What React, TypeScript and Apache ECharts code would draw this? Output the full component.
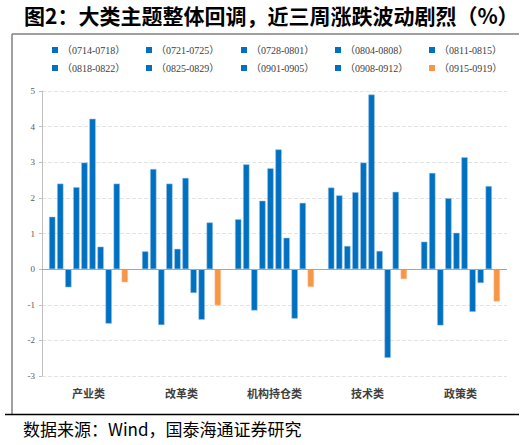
import React, { useEffect, useRef } from 'react';
import * as echarts from 'echarts';

// 分类
const categories = ['产业类', '改革类', '机构持仓类', '技术类', '政策类'];

// 各周涨跌幅（%），顺序对应 categories
const weekNames = [
  '（0714-0718）',
  '（0721-0725）',
  '（0728-0801）',
  '（0804-0808）',
  '（0811-0815）',
  '（0818-0822）',
  '（0825-0829）',
  '（0901-0905）',
  '（0908-0912）',
  '（0915-0919）',
];
const w0714 = [1.47, 0.5, 1.4, 2.29, 0.77];
const w0721 = [2.4, 2.81, 2.94, 2.07, 2.7];
const w0728 = [-0.51, -1.57, -1.16, 0.65, -1.58];
const w0804 = [2.3, 2.4, 1.92, 2.16, 1.99];
const w0811 = [2.99, 0.57, 2.83, 2.99, 1.02];
const w0818 = [4.22, 2.56, 3.36, 4.9, 3.14];
const w0825 = [0.63, -0.67, 0.88, 0.51, -1.2];
const w0901 = [-1.53, -1.42, -1.39, -2.49, -0.39];
const w0908 = [2.4, 1.31, 1.86, 2.17, 2.33];
const w0915 = [-0.37, -1.02, -0.5, -0.28, -0.91];
const weekData = [w0714, w0721, w0728, w0804, w0811, w0818, w0825, w0901, w0908, w0915];

// y轴刻度
const yMin = -3;
const yMax = 5;
const yStep = 1;

const BLUE = '#0070C0';
const ORANGE = '#F79646';
const SERIF = '"Liberation Serif", "Noto Sans CJK SC", serif';
const CJK = '"Noto Sans CJK SC", sans-serif';

// 图例位置：两行五列
const legendCols = [52, 146, 241, 335, 429];
const legendRows = [45, 63];

const App = () => {
  const chartRef = useRef<HTMLDivElement>(null);

  useEffect(() => {
    if (!chartRef.current) return;
    const chart = echarts.init(chartRef.current, null, { renderer: 'svg' });

    const legends = weekNames.map((name, i) => ({
      data: [name],
      left: legendCols[i % 5],
      top: legendRows[Math.floor(i / 5)],
      padding: 0,
      itemWidth: 6,
      itemHeight: 6,
      itemGap: 0,
      icon: 'rect',
      itemStyle: { borderWidth: 0 },
      textStyle: { fontFamily: SERIF, fontSize: 10, color: '#404040', padding: [0, 0, 0, -1] },
    }));

    const series = weekNames.map((name, i) => ({
      name,
      type: 'bar',
      data: weekData[i],
      barWidth: 6.3,
      barGap: '28%',
      itemStyle: {
        color: i === weekNames.length - 1 ? ORANGE : BLUE,
        borderColor: i === weekNames.length - 1 ? '#fbc79b' : '#9dc3e6',
        borderWidth: 0.5,
      },
      ...(i === 0
        ? {
            markLine: {
              silent: true,
              symbol: 'none',
              label: { show: false },
              lineStyle: { color: '#a6a6a6', width: 1, type: 'solid' },
              data: [{ yAxis: 0 }],
            },
          }
        : {}),
    }));

    chart.setOption({
      animation: false,
      backgroundColor: '#ffffff',
      title: {
        text: '图2：大类主题整体回调，近三周涨跌波动剧烈（%）',
        left: 24,
        top: 4,
        padding: 0,
        textStyle: { fontFamily: CJK, fontSize: 21, fontWeight: 'bold', color: '#000' },
      },
      legend: legends,
      grid: {
        left: 42,
        right: 17,
        top: 91,
        bottom: 69,
        outerBoundsMode: 'none',
      },
      xAxis: {
        type: 'category',
        data: categories,
        axisLine: { show: false, onZero: false },
        axisTick: { show: false },
        axisLabel: {
          margin: 11,
          fontFamily: CJK,
          fontSize: 11,
          fontWeight: 'bold',
          color: '#404040',
        },
      },
      yAxis: {
        type: 'value',
        min: yMin,
        max: yMax,
        interval: yStep,
        axisLine: { show: true, lineStyle: { color: '#bfbfbf', width: 1 } },
        axisTick: { show: true, length: 3, lineStyle: { color: '#bfbfbf' } },
        axisLabel: { margin: 7, fontFamily: SERIF, fontSize: 9, color: '#595959' },
        splitLine: { lineStyle: { color: '#e3e3e3', type: 'dashed', width: 1 } },
      },
      series,
      graphic: [
        {
          type: 'line',
          shape: { x1: 12, y1: 34, x2: 519, y2: 34 },
          style: { stroke: '#808080', lineWidth: 1.5 },
        },
        {
          type: 'line',
          shape: { x1: 12, y1: 34, x2: 12, y2: 414 },
          style: { stroke: '#808080', lineWidth: 1.5 },
        },
        {
          type: 'line',
          shape: { x1: 5, y1: 414.5, x2: 519, y2: 414.5 },
          style: { stroke: '#000000', lineWidth: 1.5 },
        },
        {
          type: 'text',
          left: 23,
          top: 420,
          style: {
            text: '数据来源：Wind，国泰海通证券研究',
            font: `17px ${CJK}`,
            fill: '#000',
          },
        },
      ],
    });

    return () => {
      chart.dispose();
    };
  }, []);

  return (
    <div
      ref={chartRef}
      style={{ position: 'fixed', left: 0, top: 0, width: 524, height: 445, background: '#fff' }}
    />
  );
};

export default App;
